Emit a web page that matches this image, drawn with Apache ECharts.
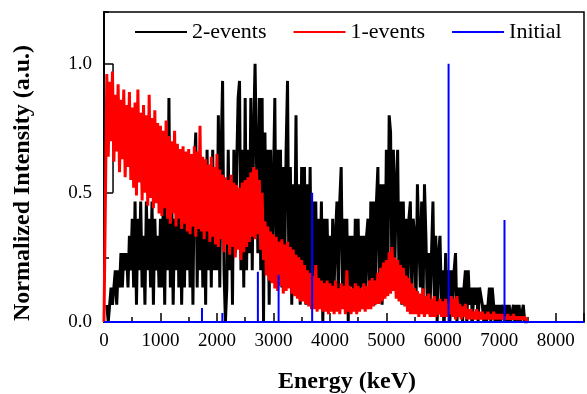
<!DOCTYPE html>
<html><head><meta charset="utf-8">
<script src="https://cdn.jsdelivr.net/npm/echarts@6/dist/echarts.min.js"></script>
<style>html,body{margin:0;padding:0;background:#fff}#c{width:587px;height:394px}</style>
</head><body><div id="c"></div>
<script>
// ---------- data ----------
const binWidth = 25;                 // keV per channel
const twoEventsMaxCount = 15;        // normalisation of 2-events counts
const twoEventsStart = 50;           // keV of first channel below
const twoEventsCounts = [
  1,0,1,2,1,2,3,1,3,2,4,2,4,3,4,2,5,3,
  6,2,7,1,6,3,7,2,5,1,7,3,6,2,7,1,6,3,5,2,
  6,2,7,1,8,3,13,2,7,1,6,3,8,2,7,1,6,2,8,3,
  7,2,8,1,9,11,2,8,3,9,2,8,1,10,3,9,2,10,3,9,
  3,12,2,10,14,3,0,2,10,3,8,1,10,4,9,13,14,3,10,2,
  13,3,10,4,13,3,11,15,15,4,13,3,13,0,11,3,10,1,10,3,
  3,13,2,10,3,10,2,9,3,10,14,2,9,1,8,3,12,2,8,1,
  9,2,9,1,8,2,9,1,7,2,7,1,6,2,7,0,6,1,6,2,
  5,1,6,2,5,7,1,7,9,2,6,1,6,0,5,2,5,1,6,2,
  6,1,5,2,5,1,5,6,1,7,2,7,1,7,9,2,8,1,8,2,
  10,2,12,11,2,10,3,8,10,2,7,1,7,2,6,1,6,7,1,6,
  5,1,8,8,2,7,1,8,5,1,4,1,4,7,1,5,0,4,5,1,
  3,0,4,1,3,0,3,1,3,4,0,2,1,2,0,2,3,0,3,1,
  2,0,2,1,2,0,2,2,1,0,1,0,1,2,0,2,1,0,1,0,
  1,0,1,1,0,1,0,1,0,0,1,0,1,0,1,0,0,1,0,0,0
];
const twoEventsEdge = [[160, 1.0], [160, 0.5]];   // short segment near the origin

const oneEventsStart = 0;
const oneEvents = [
  0,0,0.96,0.64,0.93,0.70,0.97,0.62,0.88,0.66,0.92,0.58,0.86,0.63,0.90,0.56,0.84,0.60,0.89,0.55,
  0.83,0.52,0.85,0.49,0.90,0.54,0.81,0.47,0.84,0.50,0.80,0.45,0.88,0.48,0.79,0.44,0.82,0.46,0.77,0.42,
  0.76,0.41,0.74,0.44,0.78,0.40,0.72,0.38,0.70,0.42,0.74,0.37,0.69,0.40,0.67,0.36,0.68,0.38,0.66,0.35,
  0.67,0.34,0.65,0.37,0.68,0.33,0.66,0.36,0.76,0.35,0.64,0.32,0.63,0.35,0.61,0.31,0.64,0.33,0.60,0.30,
  0.65,0.29,0.59,0.32,0.57,0.27,0.56,0.30,0.55,0.26,0.57,0.29,0.54,0.25,0.53,0.28,0.52,0.24,0.54,0.27,
  0.55,0.29,0.56,0.31,0.58,0.33,0.60,0.32,0.59,0.34,0.55,0.28,0.50,0.24,0.39,0.18,0.37,0.16,0.35,0.15,
  0.34,0.13,0.33,0.12,0.31,0.14,0.32,0.11,0.30,0.12,0.31,0.13,0.29,0.11,0.28,0.10,0.26,0.09,0.25,0.08,
  0.24,0.08,0.22,0.07,0.20,0.06,0.19,0.05,0.18,0.05,0.22,0.04,0.17,0.05,0.16,0.04,0.15,0.04,0.16,0.03,
  0.15,0.04,0.14,0.03,0.16,0.04,0.13,0.03,0.15,0.05,0.14,0.03,0.20,0.04,0.14,0.03,0.13,0.04,0.15,0.03,
  0.14,0.04,0.13,0.05,0.15,0.04,0.14,0.05,0.16,0.05,0.17,0.06,0.16,0.07,0.19,0.07,0.21,0.08,0.23,0.09,
  0.24,0.10,0.27,0.11,0.29,0.12,0.25,0.09,0.24,0.08,0.22,0.07,0.21,0.06,0.18,0.04,0.17,0.03,0.15,0.03,
  0.13,0.03,0.12,0.02,0.11,0.03,0.13,0.02,0.10,0.03,0.11,0.02,0.09,0.02,0.10,0.02,0.08,0.03,0.09,0.02,
  0.08,0.02,0.09,0.02,0.07,0.03,0.10,0.02,0.09,0.01,0.10,0.02,0.07,0.01,0.06,0.02,0.07,0.01,0.05,0.01,
  0.05,0.01,0.04,0.01,0.05,0.01,0.04,0.01,0.04,0.01,0.03,0.01,0.04,0.01,0.03,0.01,0.04,0.01,0.03,0.01,
  0.03,0.01,0.03,0.01,0.02,0.01,0.03,0.01,0.02,0.01,0.03,0.01,0.02,0.01,0.02,0.01,0.02,0.01,0.02,0.01,0
];

const initialEnergy = [1735, 2096, 2725, 3092, 3686, 6102, 7092];
const initialIntensity = [0.054, 0.035, 0.195, 0.182, 0.50, 1.0, 0.395];

const xTickValues = [0, 1000, 2000, 3000, 4000, 5000, 6000, 7000, 8000];
const yTickValues = [0.0, 0.5, 1.0];

// ---------- build ----------
const twoEventsData = twoEventsCounts.map((c, i) => [twoEventsStart + i * binWidth, c / twoEventsMaxCount]);
const oneEventsData = oneEvents.map((v, i) => [oneEventsStart + i * binWidth, v]);
const initialData = [[0, 0]];
initialEnergy.forEach((e, i) => { initialData.push([e, 0], [e, initialIntensity[i]], [e, 0]); });
initialData.push([8500, 0]);

const FONT = "'Liberation Serif', 'Times New Roman', serif";
const chart = echarts.init(document.getElementById('c'), null, {renderer: 'canvas'});
chart.setOption({
  animation: false,
  backgroundColor: '#fff',
  grid: {left: 104, top: 12, right: -2, bottom: 72, show: true, borderColor: '#000', borderWidth: 1.5, containLabel: false},
  legend: {
    data: ['2-events', '1-events', 'Initial'],
    left: 135, top: 21, padding: 0, icon: 'rect', itemWidth: 52, itemHeight: 2, itemGap: 27,
    textStyle: {fontFamily: FONT, fontSize: 22, color: '#000'}
  },
  xAxis: [{
    type: 'value', min: 0, max: 8500, interval: 1000, position: 'bottom',
    axisLine: {show: true, onZero: false, lineStyle: {color: '#000', width: 1.5}},
    axisTick: {show: true, inside: true, length: 9, lineStyle: {color: '#000', width: 1.5}},
    axisLabel: {fontFamily: FONT, fontSize: 19, color: '#000', margin: 10,
      formatter: v => xTickValues.includes(v) ? String(v) : ''},
    splitLine: {show: false}
  }, {
    type: 'value', min: 0, max: 8500, interval: 500, position: 'bottom',
    axisLine: {show: false}, axisLabel: {show: false}, splitLine: {show: false},
    axisTick: {show: true, inside: true, length: 5, lineStyle: {color: '#000', width: 1.5}}
  }],
  yAxis: [{
    type: 'value', min: 0, max: 1.2, interval: 0.5, position: 'left',
    axisLine: {show: true, onZero: false, lineStyle: {color: '#000', width: 2}},
    axisTick: {show: true, inside: true, length: 9, lineStyle: {color: '#000', width: 1.5}},
    axisLabel: {fontFamily: FONT, fontSize: 19, color: '#000', margin: 12, showMaxLabel: false,
      formatter: v => yTickValues.some(t => Math.abs(t - v) < 1e-9) ? v.toFixed(1) : ''},
    splitLine: {show: false}
  }, {
    type: 'value', min: 0, max: 1.2, interval: 0.25, position: 'left',
    axisLine: {show: false}, axisLabel: {show: false}, splitLine: {show: false},
    axisTick: {show: true, inside: true, length: 5, lineStyle: {color: '#000', width: 1.5}}
  }],
  graphic: [
    {type: 'text', x: 347, y: 382, style: {text: 'Energy (keV)', fontFamily: FONT, fontSize: 24, fontWeight: 'bold', fill: '#000', align: 'center', verticalAlign: 'middle'}},
    {type: 'text', x: 23, y: 183, rotation: Math.PI / 2, style: {text: 'Normalized Intensity (a.u.)', fontFamily: FONT, fontSize: 24, fontWeight: 'bold', fill: '#000', align: 'center', verticalAlign: 'middle'}}
  ],
  series: [
    {name: '2-events', type: 'line', data: twoEventsData, symbol: 'none', sampling: null,
      lineStyle: {color: '#000', width: 3, join: 'bevel'}, itemStyle: {color: '#000'}, z: 2},
    {name: '2-events', type: 'line', data: twoEventsEdge, symbol: 'none',
      lineStyle: {color: '#000', width: 1.5}, itemStyle: {color: '#000'}, z: 2},
    {name: '1-events', type: 'line', data: oneEventsData, symbol: 'none', sampling: null,
      lineStyle: {color: '#ff0000', width: 3, join: 'bevel'}, itemStyle: {color: '#ff0000'}, z: 3},
    {name: 'Initial', type: 'line', data: initialData, symbol: 'none',
      lineStyle: {color: '#0000ff', width: 2}, itemStyle: {color: '#0000ff'}, z: 4}
  ]
});
</script></body></html>
